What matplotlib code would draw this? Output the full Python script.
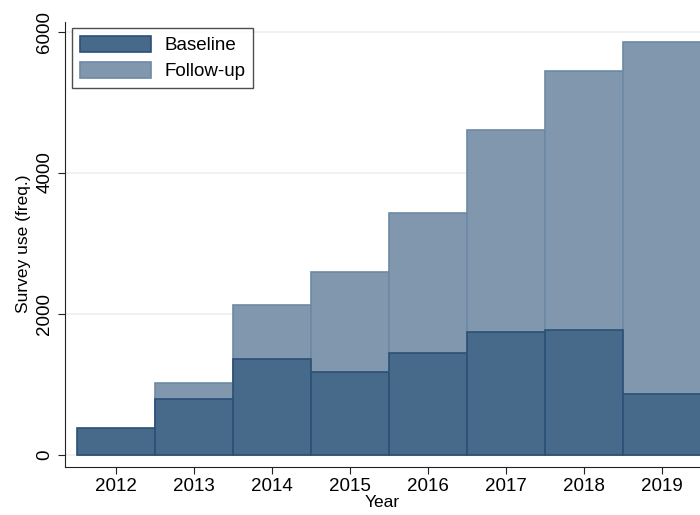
import matplotlib.pyplot as plt
from matplotlib.patches import Patch

plt.rcParams['font.family'] = ['Liberation Sans', 'DejaVu Sans']

years = [2012, 2013, 2014, 2015, 2016, 2017, 2018, 2019]
baseline = [380, 790, 1360, 1165, 1445, 1745, 1765, 860]
followup = [0, 1020, 2115, 2595, 3420, 4610, 5435, 5845]

col_base = '#476a8a'
edge_base = '#2a5176'
col_fu = '#8197ad'
edge_fu = '#6c89a5'

fig = plt.figure(figsize=(7, 5.15), dpi=100)
ax = fig.add_axes([0.093, 0.094, 0.907, 0.864])

ax.bar(years, followup, width=1.0, color=col_fu, edgecolor=edge_fu, linewidth=1.2, zorder=2)
ax.bar(years, baseline, width=1.0, color=col_base, edgecolor=edge_base, linewidth=1.2, zorder=3)

ax.set_xlim(2011.35, 2019.49)
ax.set_ylim(-170, 6140)
ax.set_xticks(years)
ax.set_yticks([0, 2000, 4000, 6000])
ax.set_yticklabels(['0', '2000', '4000', '6000'], rotation=90, va='center')
ax.tick_params(axis='both', labelsize=13.5, length=5, color='#222222')
ax.grid(axis='y', color='#eaf0f3', linewidth=1.2, zorder=0)
ax.set_axisbelow(True)

for s in ['top', 'right']:
    ax.spines[s].set_visible(False)
ax.spines['left'].set_color('#222222')
ax.spines['bottom'].set_color('#222222')

ax.set_xlabel('Year', fontsize=12.5, labelpad=0)
ax.set_ylabel('Survey use (freq.)', fontsize=12.5, labelpad=4)

handles = [Patch(facecolor=col_base, edgecolor=edge_base, linewidth=1.2, label='Baseline'),
           Patch(facecolor=col_fu, edgecolor=edge_fu, linewidth=1.2, label='Follow-up')]
leg = ax.legend(handles=handles, loc='upper left', bbox_to_anchor=(0.011, 0.985), fontsize=13.5,
                frameon=True, fancybox=False, handlelength=3.8, handleheight=0.95,
                borderpad=0.4, labelspacing=0.4, handletextpad=0.75, borderaxespad=0)
leg.get_frame().set_edgecolor('#222222')
leg.get_frame().set_linewidth(1.0)
leg.set_zorder(5)

fig.savefig('out.png', dpi=100)
